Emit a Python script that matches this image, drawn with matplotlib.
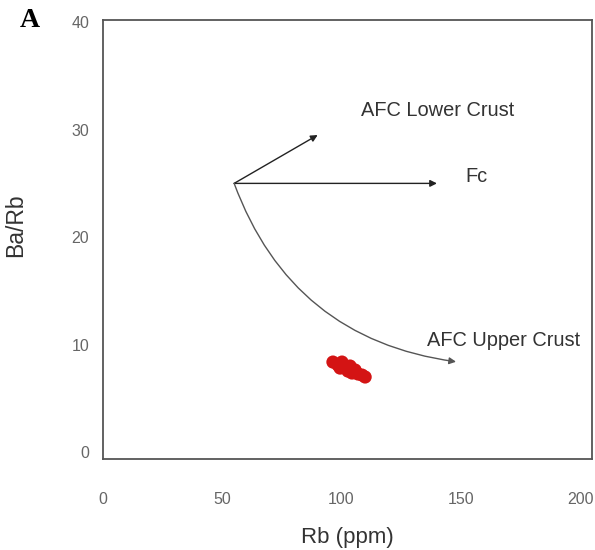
import matplotlib.pyplot as plt

# cluster of samples (Rb ppm, Ba/Rb)
rb = [96.4, 98.5, 100.2, 101.5, 103.6, 102.7, 105.7, 106.9, 108.6, 109.9, 99.4, 104.4]
ba_rb = [8.37, 8.09, 8.37, 7.81, 8.0, 7.53, 7.63, 7.26, 7.16, 6.98, 7.81, 7.35]

# vector start and ends
start = (55, 25)
afc_lower = (90, 29.5)
fc = (140, 25)
afc_upper = (148, 8.4)

labels = ['AFC Lower Crust', 'Fc', 'AFC Upper Crust']
label_pos = [(108, 31.8), (152, 25.6), (136, 10.4)]

xticks = [0, 50, 100, 150, 200]
yticks = [0, 10, 20, 30, 40]

plt.rcParams['font.family'] = ['Liberation Sans', 'DejaVu Sans']

fig = plt.figure(figsize=(5.95, 5.5), dpi=100)
ax = fig.add_axes([0.173, 0.1655, 0.822, 0.798])

ax.scatter(rb, ba_rb, s=90, color='#d41414', edgecolors='none', zorder=3)

arr = dict(arrowstyle='-|>', color='#222222', lw=1.0, mutation_scale=10, shrinkA=0, shrinkB=0)
ax.annotate('', xy=afc_lower, xytext=start, arrowprops=arr)
ax.annotate('', xy=fc, xytext=start, arrowprops=arr)
ax.annotate('', xy=afc_upper, xytext=start,
            arrowprops=dict(arr, color='#555555', connectionstyle='arc3,rad=0.3'))

for t, (x, y) in zip(labels, label_pos):
    ax.text(x, y, t, fontsize=14.4, color='#333333', ha='left', va='center')

ax.set_xlim(0, 205)
ax.set_ylim(-0.65, 40.2)
ax.set_xticks(xticks)
ax.set_yticks(yticks)
ax.tick_params(length=0, labelsize=11.5, labelcolor='#666666')
ax.tick_params(axis='x', pad=24)
ax.tick_params(axis='y', pad=10)
for s in ax.spines.values():
    s.set_color('#555555')
    s.set_linewidth(1.3)

ax.set_xlabel('Rb (ppm)', fontsize=16, color='#333333', labelpad=14)
ax.set_ylabel('Ba/Rb', fontsize=16.5, color='#333333')
ax.yaxis.set_label_coords(-0.155, 0.533)

fig.text(0.034, 0.985, 'A', fontsize=20, fontweight='bold', family='Liberation Serif', va='top')

fig.savefig('out.png')
